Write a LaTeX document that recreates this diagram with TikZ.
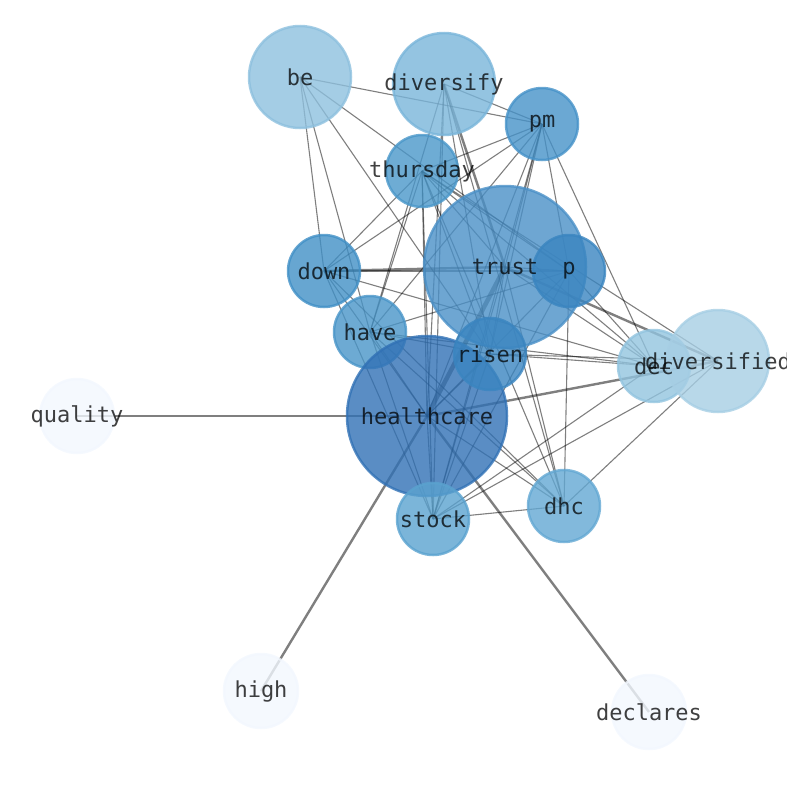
\documentclass[tikz,border=0pt]{standalone}
\usepackage{fontspec}
\newfontfamily\labfont{DejaVu Sans Mono}
\pgfdeclarelayer{edges}
\pgfdeclarelayer{labels}
\pgfsetlayers{edges,main,labels}
\definecolor{cHc}{HTML}{3171B5}
\definecolor{cTr}{HTML}{4A90C7}
\definecolor{cP}{HTML}{3A85C0}
\definecolor{cRi}{HTML}{3A85C0}
\definecolor{cPm}{HTML}{4692C8}
\definecolor{cDo}{HTML}{4190C6}
\definecolor{cHa}{HTML}{4995C8}
\definecolor{cTh}{HTML}{4A97C9}
\definecolor{cSt}{HTML}{5AA2CF}
\definecolor{cDh}{HTML}{63A8D3}
\definecolor{cDy}{HTML}{79B5DA}
\definecolor{cBe}{HTML}{8DC0DE}
\definecolor{cDc}{HTML}{92C4DF}
\definecolor{cDd}{HTML}{A6CEE4}
\definecolor{cLo}{HTML}{F2F7FE}
\tikzset{
  vtx/.style 2 args={circle, inner sep=0pt, minimum size=#2, fill=#1, draw=#1,
     fill opacity=0.8, draw opacity=0.8, line width=2.5pt},
  lab/.style={font=\labfont\fontsize{22}{24}\selectfont, text=black, text opacity=0.75, inner sep=0pt},
  ethin/.style={draw=black, draw opacity=0.5, line width=1.1pt},
  emed/.style={draw=black, draw opacity=0.5, line width=2.4pt},
  ethick/.style={draw=black, draw opacity=0.5, line width=4.5pt}
}
\begin{document}
\begin{tikzpicture}[x=1pt,y=-1pt]
\useasboundingbox (0,0) rectangle (794,790);
% nodes
\node[vtx={cBe}{102pt}] (be) at (300,77) {};
\node[vtx={cDy}{102pt}] (diversify) at (444,84) {};
\node[vtx={cPm}{72pt}] (pm) at (542,124) {};
\node[vtx={cTh}{72pt}] (thursday) at (422,171) {};
\node[vtx={cTr}{162pt}] (trust) at (505,267) {};
\node[vtx={cP}{72pt}] (p) at (569,271) {};
\node[vtx={cDo}{72pt}] (down) at (324,271) {};
\node[vtx={cHa}{72pt}] (have) at (370,332) {};
\node[vtx={cHc}{160pt}] (healthcare) at (427,416) {};
\node[vtx={cRi}{72pt}] (risen) at (490,354) {};
\node[vtx={cDc}{72pt}] (dec) at (654,366) {};
\node[vtx={cDd}{102pt}] (diversified) at (718,361) {};
\node[vtx={cLo}{74pt}] (quality) at (77,416) {};
\node[vtx={cSt}{72pt}] (stock) at (433,519) {};
\node[vtx={cDh}{72pt}] (dhc) at (564,506) {};
\node[vtx={cLo}{74pt}] (high) at (261,691) {};
\node[vtx={cLo}{74pt}] (declares) at (649,712) {};
% edges
\begin{pgfonlayer}{edges}
\draw[ethick] (healthcare.center) -- (trust.center);
\foreach \a/\b in {healthcare/quality, healthcare/high, healthcare/declares, healthcare/diversified,
  diversify/trust, trust/diversified, down/trust}
  \draw[emed] (\a.center) -- (\b.center);
\foreach \a/\b in {be/pm, be/p, be/down, be/have, be/risen, pm/healthcare,
  diversify/pm, diversify/have, diversify/stock, diversify/healthcare, diversify/dhc, diversify/risen,
  thursday/pm, thursday/down, thursday/have, thursday/stock, thursday/risen, thursday/trust,
  thursday/p, thursday/dec, thursday/diversified, thursday/dhc, thursday/healthcare,
  pm/down, pm/have, pm/risen, pm/stock, pm/p, pm/dec, pm/trust,
  down/p, down/healthcare, down/stock, down/dhc, down/dec,
  have/p, have/healthcare, have/stock, have/dec, have/dhc, have/risen,
  risen/dec, risen/diversified, risen/healthcare, risen/stock, risen/trust,
  trust/p, trust/stock, trust/dhc, trust/dec,
  p/dhc, p/dec, p/healthcare, p/stock,
  dec/stock, diversified/dhc, diversified/stock,
  stock/dhc, stock/healthcare, dhc/healthcare}
  \draw[ethin] (\a.center) -- (\b.center);
\end{pgfonlayer}
% labels
\begin{pgfonlayer}{labels}
\begin{scope}
\clip (0,0) rectangle (786,790);
\foreach \n in {be, diversify, pm, thursday, trust, p, down, have, healthcare, risen,
  dec, diversified, quality, stock, dhc, high, declares}
  \node[lab] (\n-l) at (\n) {\n};
\end{scope}
\end{pgfonlayer}
\end{tikzpicture}
\end{document}
